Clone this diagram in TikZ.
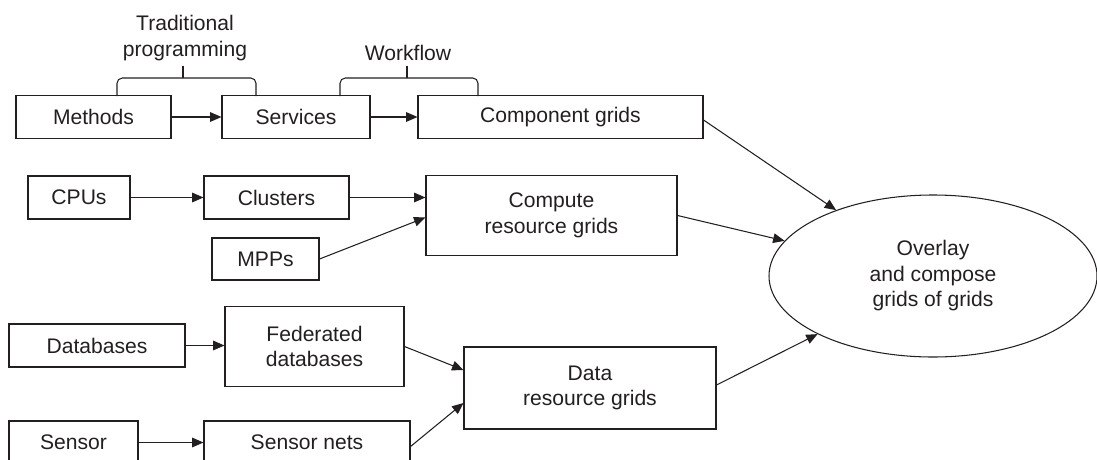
\documentclass[tikz,border=0pt]{standalone}
\usepackage{fontspec}
\setmainfont{Liberation Sans}
\usepackage{xcolor}
\usepackage{tikz}
\usetikzlibrary{calc,positioning,arrows.meta,shapes.geometric}
\definecolor{figInk}{HTML}{231F20}

\begin{document}
\begin{tikzpicture}[
  >={Triangle[length=6.5pt,width=5.5pt]},
  color=figInk, line width=0.6pt,
  every node/.style={font=\fontsize{12}{14.5}\selectfont},
  gridbox/.style={rectangle, draw, align=center, inner sep=2pt,
    minimum width=#1, minimum height=0.86cm},
  tallbox/.style={gridbox=#1, minimum height=1.60cm},
  overlaynode/.style={ellipse, draw, align=center, inner sep=0pt,
    minimum width=6.56cm, minimum height=3.24cm},
  bracelabel/.style={align=center, inner sep=1pt},
  flow/.style={->},
]
\useasboundingbox (0,0) rectangle (21.94,-9.18);
\clip (0,0) rectangle (21.94,-9.18);

% ======= Top row: software =======
\node[gridbox=3.10cm] (methods) at (1.87,-2.34) {Methods};
\node[gridbox=2.96cm] (services) at (5.92,-2.34) {Services};
\node[gridbox=5.70cm] (component) at (11.21,-2.34) {Component grids};

% Braces
\node[bracelabel, anchor=south] (tradlbl) at (3.70,-1.26) {Traditional\\programming};
\draw[rounded corners=3pt] (2.34,-1.92) |- (5.12,-1.56) -- (5.12,-1.92);
\draw (3.66,-1.56) -- (3.66,-1.32);
\node[bracelabel, anchor=south] (wflbl) at (8.16,-1.26) {Workflow};
\draw[rounded corners=3pt] (6.80,-1.92) |- (9.56,-1.56) -- (9.56,-1.92);
\draw (8.14,-1.56) -- (8.14,-1.32);

\draw[flow] (methods) -- (services);
\draw[flow] (services) -- (component);

% ======= Middle row: compute =======
\node[gridbox=2.04cm] (cpus) at (1.58,-3.95) {CPUs};
\node[gridbox=2.90cm] (clusters) at (5.53,-3.95) {Clusters};
\node[gridbox=2.14cm, minimum height=0.84cm] (mpps) at (5.31,-5.18) {MPPs};
\node[tallbox=5.02cm] (compute) at (11.03,-4.31) {Compute\\resource grids};

\draw[flow] (cpus) -- (clusters);
\draw[flow] (clusters.east) -- (clusters.east -| compute.west);
\draw[flow] (mpps.east) -- ([yshift=-0.04cm]compute.west);

% ======= Bottom rows: data =======
\node[gridbox=3.52cm] (databases) at (1.94,-6.91) {Databases};
\node[tallbox=3.58cm] (federated) at (6.29,-6.93) {Federated\\databases};
\node[tallbox=5.04cm, minimum height=1.64cm] (data) at (11.80,-7.76) {Data\\resource grids};
\node[gridbox=2.58cm] (sensor) at (1.47,-8.85) {Sensor};
\node[gridbox=4.12cm] (sensornets) at (6.14,-8.85) {Sensor nets};

\draw[flow] (databases.east) -- (databases.east -| federated.west);
\draw[flow] (federated.east) -- ([yshift=0.36cm]data.west);
\draw[flow] (sensor) -- (sensornets);
\draw[flow] ([yshift=-0.08cm]sensornets.east) -- ([yshift=-0.30cm]data.west);

% ======= Overlay =======
\node[overlaynode] (overlay) at (18.66,-5.52)
  {Overlay\\and compose\\grids of grids};

\draw[flow] ([yshift=-0.06cm]component.east) -- (overlay);
\draw[flow] (compute.east) -- (overlay);
\draw[flow] ([yshift=0.06cm]data.east) -- (overlay);

\end{tikzpicture}
\end{document}
